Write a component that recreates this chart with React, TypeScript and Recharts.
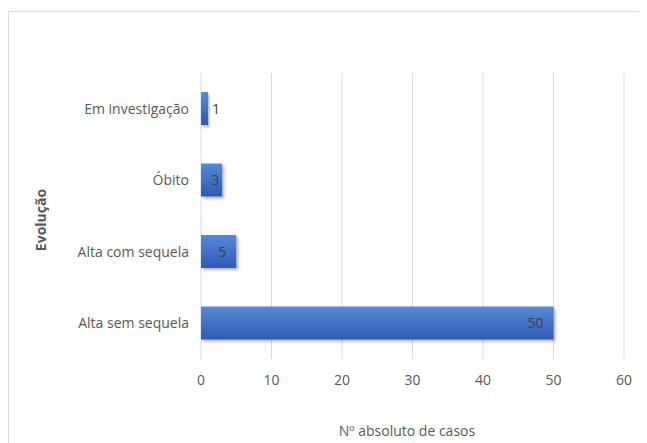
import { Bar, BarChart, CartesianGrid, LabelList, XAxis, YAxis } from "recharts";

const categories = ["Em investigação", "Óbito", "Alta com sequela", "Alta sem sequela"];
const casos = [1, 3, 5, 50];
const xTicks = [0, 10, 20, 30, 40, 50, 60];

const data = categories.map((name, i) => ({ name, value: casos[i] }));

const FONT = "'Liberation Sans Narrow', 'Arial Narrow', 'Open Sans', sans-serif";

function ValueLabel(props: any) {
  const { x, y, width, height, value } = props;
  const cy = y + height / 2;
  let tx = x + width - 10;
  let anchor: "start" | "middle" | "end" = "end";
  if (width < 10) {
    tx = x + width + 4;
    anchor = "start";
  } else if (width < 25) {
    tx = x + width / 2 + 4;
    anchor = "middle";
  }
  return (
    <text x={tx} y={cy} dy={5} textAnchor={anchor} fontSize={14} fill="#404040" fontFamily={FONT}>
      {value}
    </text>
  );
}

export default function App() {
  return (
    <div style={{ position: "relative", width: 639, height: 435, overflow: "hidden", background: "#fff" }}>
      <div
        style={{
          position: "absolute",
          left: 0,
          top: 3,
          width: 700,
          height: 500,
          borderTop: "1px solid #d9d9d9",
          borderLeft: "1px solid #d9d9d9",
        }}
      />
      <BarChart
        width={639}
        height={435}
        data={data}
        layout="vertical"
        margin={{ top: 65, right: 23, bottom: 54, left: 0 }}
        style={{ position: "absolute", left: 0, top: 0 }}
      >
        <defs>
          <linearGradient id="barFill" x1="0" y1="0" x2="0" y2="1">
            <stop offset="0%" stopColor="#5a88d8" />
            <stop offset="100%" stopColor="#2c5ab4" />
          </linearGradient>
          <filter id="barShadow" x="-10%" y="-20%" width="130%" height="160%">
            <feDropShadow dx="2" dy="2" stdDeviation="1.5" floodColor="#000" floodOpacity="0.3" />
          </filter>
        </defs>
        <CartesianGrid horizontal={false} stroke="#d9d9d9" />
        <XAxis
          type="number"
          domain={[0, 60]}
          ticks={xTicks}
          axisLine={false}
          tickLine={false}
          height={30}
          tickMargin={10}
          tick={{ fontSize: 14, fill: "#595959", fontFamily: FONT }}
        />
        <YAxis
          type="category"
          dataKey="name"
          width={193}
          axisLine={false}
          tickLine={false}
          tickMargin={6}
          tick={{ fontSize: 14, fill: "#595959", fontFamily: FONT }}
        />
        <Bar
          dataKey="value"
          barSize={33}
          fill="url(#barFill)"
          filter="url(#barShadow)"
          isAnimationActive={false}
        >
          <LabelList dataKey="value" content={ValueLabel} />
        </Bar>
      </BarChart>
      <div
        style={{
          position: "absolute",
          left: 32,
          top: 212,
          transform: "translate(-50%, -50%) rotate(-90deg)",
          fontFamily: FONT,
          fontWeight: "bold",
          fontSize: 14,
          color: "#595959",
          whiteSpace: "nowrap",
        }}
      >
        Evolução
      </div>
      <div
        style={{
          position: "absolute",
          left: 399,
          top: 422,
          transform: "translate(-50%, -50%)",
          fontFamily: FONT,
          fontSize: 14,
          color: "#595959",
          whiteSpace: "nowrap",
        }}
      >
        Nº absoluto de casos
      </div>
    </div>
  );
}
